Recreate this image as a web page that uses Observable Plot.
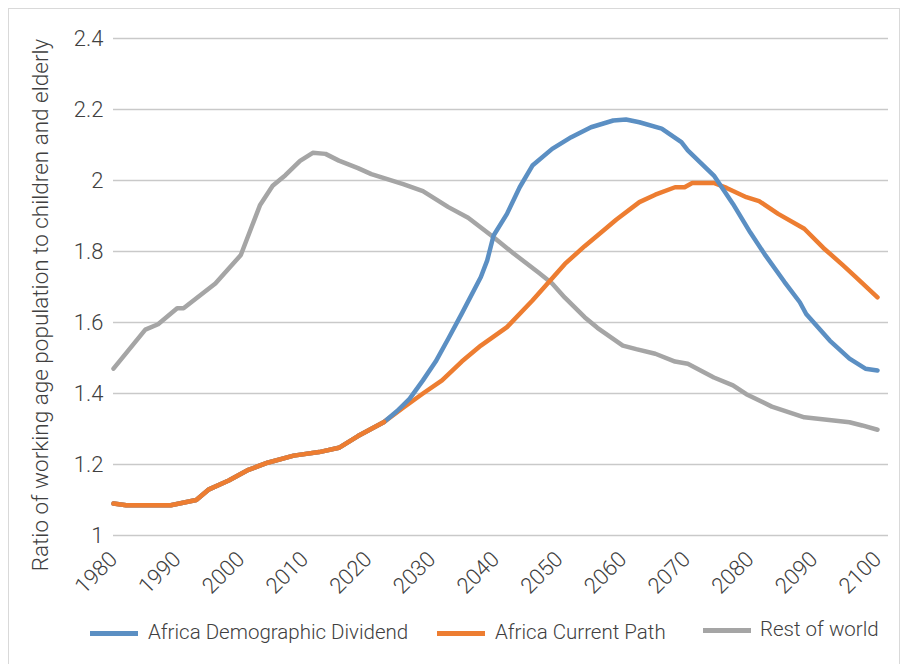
<!DOCTYPE html>
<html>
<head>
<meta charset="utf-8">
<script src="https://cdn.jsdelivr.net/npm/d3@7"></script>
<script src="https://cdn.jsdelivr.net/npm/@observablehq/plot@0.6"></script>
<style>
  html, body { margin: 0; padding: 0; background: #fff; }
  body { width: 906px; height: 664px; position: relative; overflow: hidden;
         font-family: Roboto, "Liberation Sans", sans-serif; font-weight: 300; color: #404040; }
  #frame { position: absolute; left: 8px; top: 8px; width: 892px; height: 670px; border: 1.5px solid #d9d9d9; box-sizing: border-box; }
  #chart { position: absolute; left: 0; top: 0; }
  #ytitle { position: absolute; left: 40px; top: 305px; transform: translate(-50%, -50%) rotate(-90deg);
            white-space: nowrap; font-size: 22.5px; color: #404040; }
  .leg { position: absolute; font-size: 20.5px; color: #404040; white-space: nowrap; }
  .sw { position: absolute; height: 5px; width: 48px; }
</style>
</head>
<body>
<div id="frame"></div>
<div id="chart"></div>
<div id="ytitle">Ratio of working age population to children and elderly</div>
<div id="legend"></div>
<script>
const seriesNames = ["Africa Demographic Dividend", "Africa Current Path", "Rest of world"];
const seriesColors = ["#5b8fc3", "#ed7d31", "#a5a5a5"];

const yTicks = [1, 1.2, 1.4, 1.6, 1.8, 2, 2.2, 2.4];
const xTicks = [1980, 1990, 2000, 2010, 2020, 2030, 2040, 2050, 2060, 2070, 2080, 2090, 2100];

// Rest of world
const rowYears = [1980, 1985, 1987, 1990, 1991, 1996, 1998, 2000, 2003, 2005, 2007, 2009.3, 2011.3, 2013.3, 2015.4, 2018.4, 2020.5, 2025.5, 2028.6, 2032.6, 2035.7, 2039.7, 2042.8, 2046.8, 2048.9, 2050.9, 2054, 2056, 2060, 2062.1, 2065.1, 2068.2, 2070.2, 2074.3, 2077.3, 2079.4, 2083.4, 2088.5, 2095.6, 2097.6, 2100];
const rowValues = [1.47, 1.58, 1.595, 1.64, 1.64, 1.71, 1.75, 1.79, 1.93, 1.985, 2.015, 2.055, 2.078, 2.075, 2.056, 2.035, 2.018, 1.99, 1.97, 1.925, 1.895, 1.84, 1.795, 1.74, 1.71, 1.67, 1.615, 1.585, 1.535, 1.525, 1.512, 1.49, 1.484, 1.445, 1.423, 1.398, 1.363, 1.333, 1.319, 1.31, 1.298];

// Africa Current Path
const cpYears = [1980, 1982, 1989, 1993, 1995, 1998.1, 2001.2, 2004.2, 2008.3, 2012.3, 2015.4, 2018.4, 2022.5, 2025.5, 2028.6, 2031.6, 2034.7, 2037.7, 2039.7, 2041.8, 2045.8, 2050.9, 2054, 2057, 2059, 2062.6, 2065.1, 2068.2, 2069.7, 2070.9, 2074.3, 2076.3, 2079.4, 2081.4, 2084.4, 2088.5, 2091.5, 2094.6, 2096.6, 2100];
const cpValues = [1.09, 1.085, 1.085, 1.10, 1.13, 1.155, 1.185, 1.205, 1.225, 1.235, 1.247, 1.28, 1.32, 1.36, 1.40, 1.437, 1.49, 1.535, 1.56, 1.587, 1.662, 1.765, 1.815, 1.86, 1.89, 1.939, 1.96, 1.981, 1.981, 1.993, 1.993, 1.979, 1.953, 1.942, 1.906, 1.864, 1.81, 1.761, 1.728, 1.671];

// Africa Demographic Dividend
const ddYears = [1980, 1982, 1989, 1993, 1995, 1998.1, 2001.2, 2004.2, 2008.3, 2012.3, 2015.4, 2018.4, 2022.5, 2024.5, 2026.5, 2028.6, 2030.6, 2032.6, 2034.7, 2037.7, 2038.7, 2039.7, 2041.8, 2043.8, 2045.8, 2048.9, 2051.9, 2052.9, 2055, 2058.5, 2060.5, 2062.6, 2066.1, 2069.2, 2070.2, 2074.3, 2077.3, 2080, 2082.4, 2085.4, 2087.8, 2088.8, 2092.5, 2095.6, 2098.1, 2100];
const ddValues = [1.09, 1.085, 1.085, 1.10, 1.13, 1.155, 1.185, 1.205, 1.225, 1.235, 1.247, 1.28, 1.32, 1.35, 1.385, 1.437, 1.49, 1.555, 1.625, 1.728, 1.775, 1.845, 1.906, 1.981, 2.042, 2.089, 2.122, 2.131, 2.15, 2.169, 2.172, 2.164, 2.146, 2.108, 2.085, 2.014, 1.934, 1.854, 1.789, 1.714, 1.657, 1.624, 1.549, 1.498, 1.47, 1.465];

const rows = [];
ddYears.forEach((y, i) => rows.push({series: seriesNames[0], year: y, value: ddValues[i]}));
cpYears.forEach((y, i) => rows.push({series: seriesNames[1], year: y, value: cpValues[i]}));
rowYears.forEach((y, i) => rows.push({series: seriesNames[2], year: y, value: rowValues[i]}));

const chart = Plot.plot({
  width: 906,
  height: 615,
  marginTop: 38,
  marginBottom: 80,
  marginLeft: 113,
  marginRight: 18,
  style: {fontFamily: "Roboto, 'Liberation Sans', sans-serif", fontWeight: 300, color: "#404040", background: "transparent"},
  x: {domain: [1980, 2100], insetRight: 11, axis: null},
  y: {domain: [1, 2.4], ticks: yTicks, tickFormat: d => String(d)},
  color: {domain: seriesNames, range: seriesColors},
  marks: [
    Plot.ruleY(yTicks, {stroke: "#c9c9c9", strokeWidth: 1.5}),
    Plot.axisY({ticks: yTicks, tickSize: 0, tickPadding: 10, fontSize: 22, label: null, tickFormat: d => String(d)}),
    Plot.text(xTicks, {x: d => d, text: d => String(d), frameAnchor: "bottom", rotate: -45, textAnchor: "end", lineAnchor: "top", dx: -6, dy: 14, fontSize: 22, fill: "#404040"}),
    Plot.line(rows.filter(d => d.series === seriesNames[2]), {x: "year", y: "value", stroke: "series", strokeWidth: 4.5, curve: "linear"}),
    Plot.line(rows.filter(d => d.series === seriesNames[1]), {x: "year", y: "value", stroke: "series", strokeWidth: 4.5, curve: "linear"}),
    Plot.line(rows.filter(d => d.series === seriesNames[0]), {x: "year", y: "value", stroke: "series", strokeWidth: 4.5, curve: "linear"}),
    Plot.line(rows.filter(d => d.series === seriesNames[1] && d.year <= 2022.5), {x: "year", y: "value", stroke: "series", strokeWidth: 4.5, curve: "linear"})
  ]
});
document.getElementById("chart").appendChild(chart);

const legendPos = [[90, 148], [437, 495], [703, 760]];
const legend = document.getElementById("legend");
seriesNames.forEach((name, i) => {
  const sw = document.createElement("div");
  sw.className = "sw";
  sw.style.left = legendPos[i][0] + "px";
  sw.style.top = (i === 2 ? 628 : 631) + "px";
  sw.style.background = seriesColors[i];
  legend.appendChild(sw);
  const t = document.createElement("div");
  t.className = "leg";
  t.style.left = legendPos[i][1] + "px";
  t.style.top = (i === 2 ? 617 : 620) + "px";
  t.textContent = name;
  legend.appendChild(t);
});
</script>
</body>
</html>
